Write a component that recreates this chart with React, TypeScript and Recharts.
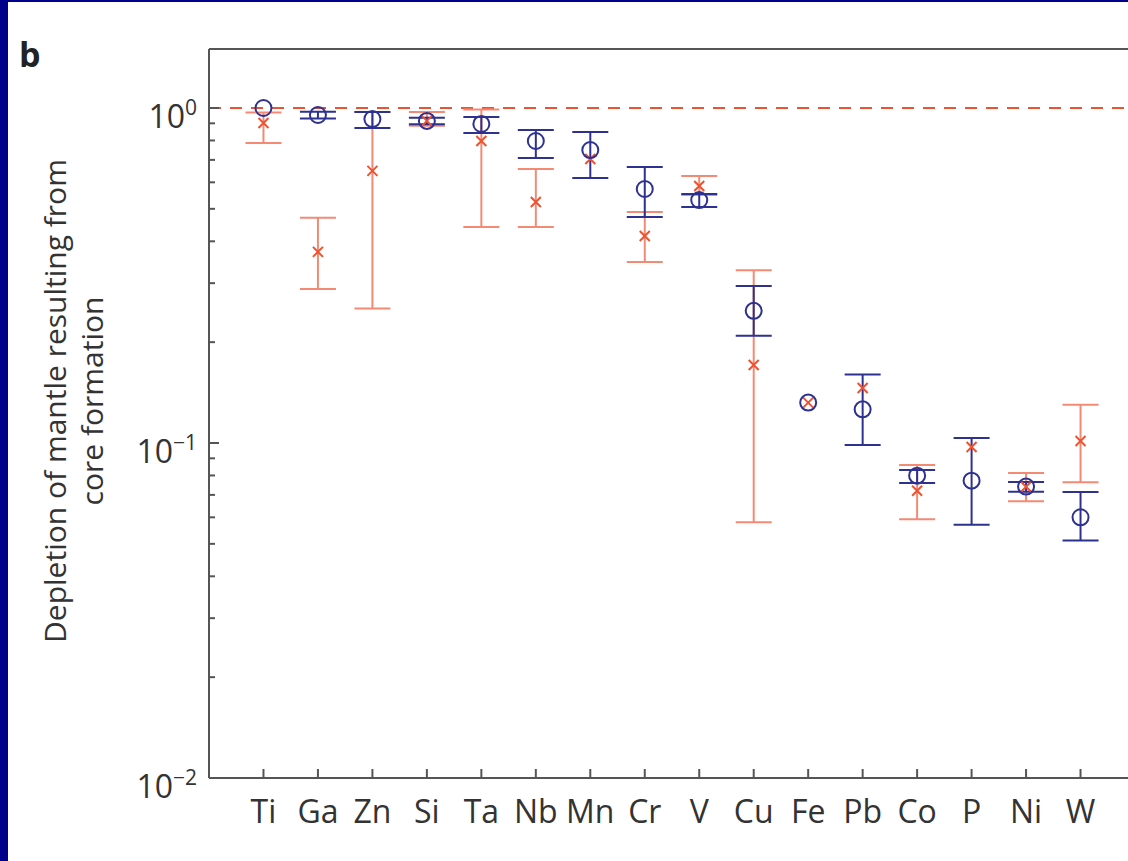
import React from "react";
import { ScatterChart, Scatter, XAxis, YAxis, ErrorBar, ReferenceLine } from "recharts";

const elements = ["Ti", "Ga", "Zn", "Si", "Ta", "Nb", "Mn", "Cr", "V", "Cu", "Fe", "Pb", "Co", "P", "Ni", "W"];

// blue circles (value, lower bound, upper bound)
const blueValue = [1.0, 0.953, 0.927, 0.915, 0.896, 0.797, 0.749, 0.573, 0.531, 0.248, 0.132, 0.126, 0.0799, 0.0772, 0.0741, 0.06];
const blueLow = [1.0, 0.93, 0.872, 0.895, 0.842, 0.709, 0.618, 0.473, 0.506, 0.209, 0.132, 0.0986, 0.076, 0.057, 0.0715, 0.0512];
const blueHigh = [1.0, 0.975, 0.973, 0.935, 0.94, 0.86, 0.848, 0.667, 0.554, 0.294, 0.132, 0.16, 0.083, 0.1035, 0.0765, 0.0714];

// red crosses
const redValue = [0.902, 0.372, 0.649, 0.915, 0.797, 0.524, 0.704, 0.415, 0.585, 0.171, 0.132, 0.146, 0.072, 0.0973, 0.074, 0.1014];
const redLow = [0.786, 0.288, 0.252, 0.885, 0.441, 0.441, 0.704, 0.347, 0.55, 0.058, 0.132, 0.146, 0.0592, 0.0973, 0.067, 0.0764];
const redHigh = [0.97, 0.47, 0.973, 0.973, 0.99, 0.658, 0.704, 0.489, 0.627, 0.328, 0.132, 0.146, 0.086, 0.0973, 0.0814, 0.13];

const yTicks = [
  0.01, 0.02, 0.03, 0.04, 0.05, 0.06, 0.07, 0.08, 0.09,
  0.1, 0.2, 0.3, 0.4, 0.5, 0.6, 0.7, 0.8, 0.9, 1,
];
const yLabels: Record<string, string> = { "0.01": "−2", "0.1": "−1", "1": "0" };
const xTicks = elements.map((_, i) => i + 1);

const BLUE = "#2d3190";
const RED = "#ee5230";
const RED_BAR = "#f38a74";
const AXIS = "#555";
const FONT = "'Open Sans', sans-serif";

// no error bar when both bounds equal the value
const errOf = (v: number, lo: number, hi: number) => (lo === hi ? null : [v - lo, hi - v]);

const blueData = elements.map((name, i) => ({
  x: i + 1,
  name,
  y: blueValue[i],
  err: errOf(blueValue[i], blueLow[i], blueHigh[i]),
}));
const redData = elements.map((name, i) => ({
  x: i + 1,
  name,
  y: redValue[i],
  err: errOf(redValue[i], redLow[i], redHigh[i]),
}));

const Ring = (p: any) => (
  <circle cx={p.cx} cy={p.cy} r={8} fill="none" stroke={BLUE} strokeWidth={2} />
);

const Cross = (p: any) => (
  <path
    d={`M${p.cx - 5},${p.cy - 5}L${p.cx + 5},${p.cy + 5}M${p.cx - 5},${p.cy + 5}L${p.cx + 5},${p.cy - 5}`}
    stroke={RED}
    strokeWidth={2}
    fill="none"
  />
);

const YTick = (p: any) => {
  const v = p.payload.value;
  const sup = yLabels[String(v)];
  const major = sup !== undefined;
  return (
    <g>
      <line x1={p.x} x2={p.x + (major ? 10 : 6)} y1={p.y} y2={p.y} stroke={AXIS} strokeWidth={2} />
      {major && (
        <text x={p.x - 12} y={p.y + 20} textAnchor="end" fontFamily={FONT} fontSize={32} fill="#333">
          10
          <tspan fontSize={21} dy={-13}>
            {sup}
          </tspan>
        </text>
      )}
    </g>
  );
};

const XTick = (p: any) => (
  <g>
    <line x1={p.x} x2={p.x} y1={p.y} y2={p.y - 9} stroke={AXIS} strokeWidth={2} />
    <text x={p.x} y={p.y + 45} textAnchor="middle" fontFamily={FONT} fontSize={32} fill="#333">
      {elements[p.payload.value - 1]}
    </text>
  </g>
);

export default function App() {
  return (
    <div
      style={{
        position: "fixed",
        left: 0,
        top: 0,
        width: 1128,
        height: 861,
        background: "#00008a",
        overflow: "hidden",
      }}
    >
      <div style={{ position: "absolute", left: 8, top: 2, right: 0, bottom: 0, background: "#fff" }} />
      <div
        style={{
          position: "absolute",
          left: 19,
          top: 34,
          fontFamily: FONT,
          fontWeight: 700,
          fontSize: 34,
          color: "#222",
          lineHeight: "40px",
        }}
      >
        b
      </div>
      <div
        style={{
          position: "absolute",
          left: 73 - 300,
          top: 401 - 37,
          width: 600,
          height: 74,
          transform: "rotate(-90deg)",
          textAlign: "center",
          fontFamily: FONT,
          fontSize: 30,
          lineHeight: "37px",
          color: "#333",
        }}
      >
        Depletion of mantle resulting from
        <br />
        core formation
      </div>
      <div style={{ position: "absolute", left: 0, top: 0 }}>
        <ScatterChart width={1160} height={861} margin={{ top: 49, right: 25, bottom: 82, left: 208 }}>
          <XAxis
            type="number"
            dataKey="x"
            domain={[0, 17]}
            ticks={xTicks}
            interval={0}
            height={1}
            tickSize={0}
            tickMargin={0}
            axisLine={{ stroke: AXIS, strokeWidth: 2 }}
            tickLine={false}
            tick={<XTick />}
          />
          <YAxis
            type="number"
            dataKey="y"
            scale="log"
            domain={[0.01, 1.5]}
            allowDataOverflow
            ticks={yTicks}
            interval={0}
            width={1}
            tickSize={0}
            tickMargin={0}
            axisLine={{ stroke: AXIS, strokeWidth: 2 }}
            tickLine={false}
            tick={<YTick />}
          />
          <ReferenceLine y={1.5} stroke={AXIS} strokeWidth={2} />
          <ReferenceLine y={1} stroke={RED} strokeWidth={2} strokeDasharray="12 9" />
          <Scatter data={redData} shape={Cross} isAnimationActive={false}>
            <ErrorBar
              dataKey="err"
              direction="y"
              width={18}
              stroke={RED_BAR}
              strokeWidth={2}
              isAnimationActive={false}
            />
          </Scatter>
          <Scatter data={blueData} shape={Ring} isAnimationActive={false}>
            <ErrorBar
              dataKey="err"
              direction="y"
              width={18}
              stroke={BLUE}
              strokeWidth={2}
              isAnimationActive={false}
            />
          </Scatter>
        </ScatterChart>
      </div>
    </div>
  );
}
